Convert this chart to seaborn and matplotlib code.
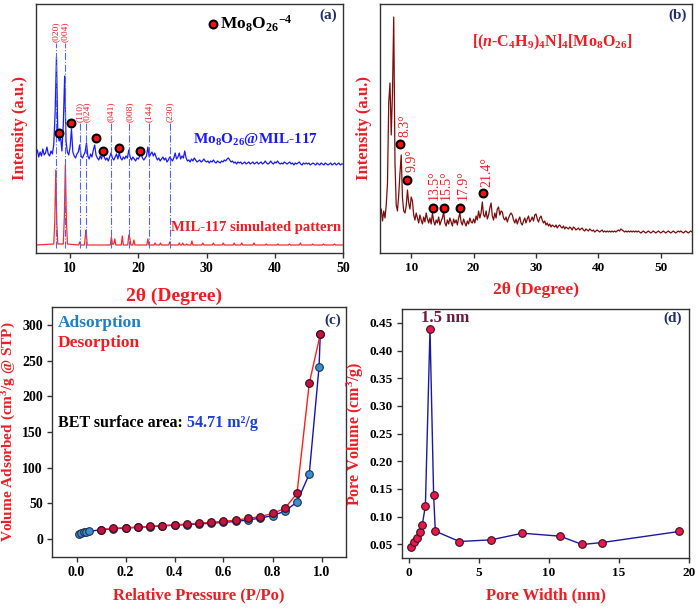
import numpy as np
import pandas as pd
import matplotlib
matplotlib.use("Agg")
import matplotlib.pyplot as plt
import seaborn as sns

# ---------------- data ----------------
# (a) Mo8O26@MIL-117 experimental trace, 5..50 deg step 0.2 (arbitrary intensity units)
a_blue = [
    99, 103, 96, 101, 97,   104, 98, 100, 106, 99,   97, 102, 99, 108, 140,
    196, 118, 112, 116, 102,   128, 177, 112, 101, 98,   106, 124, 101, 97, 95,
    99, 101, 108, 97, 95,   98, 101, 110, 97, 94,   99, 96, 103, 108, 98,
    95, 93, 97, 94, 101,   96, 93, 95, 92, 96,   100, 95, 93, 96, 99,
    94, 100, 95, 93, 96,   94, 97, 95, 103, 96,   93, 96, 94, 92, 95,
    94, 97, 100, 95, 93,   95, 97, 106, 96, 99,   101, 97, 100, 96, 93,
    95, 92, 94, 96, 93,   95, 91, 93, 96, 94,   92, 95, 100, 94, 96,
    100, 94, 97, 95, 102,   95, 92, 93, 91, 94,   92, 95, 93, 91, 92,
    93, 91, 92, 94, 92,   91, 92, 90, 92, 91,   93, 91, 90, 92, 91,
    90, 92, 91, 93, 92,   94, 95, 93, 91, 92,   90, 91, 89, 91, 90,
    91, 89, 90, 91, 89,   90, 91, 89, 90, 91,   89, 90, 91, 89, 90,
    91, 89, 90, 92, 90,   89, 90, 92, 90, 89,   91, 90, 92, 90, 89,
    90, 89, 91, 90, 89,   90, 91, 89, 90, 88,   90, 89, 90, 91, 89,
    88, 90, 89, 90, 89,   90, 88, 89, 90, 89,   88, 90, 89, 88, 90,
    89, 88, 90, 89, 88,   89, 90, 88, 89, 90,   88, 89, 90, 88, 89,
    89,
]
# (a) MIL-117 simulated pattern (peak-resolved sampling)
a_red_x = [5.0, 7.6, 7.75, 7.9, 8.05, 8.2,
           9.0, 9.15, 9.3, 9.45, 9.6,
           11.25, 11.4, 11.55, 12.1, 12.25, 12.35, 12.5,
           15.9, 16.05, 16.2, 16.4, 16.55, 16.7,
           17.5, 17.65, 17.8, 18.45, 18.6, 18.75, 18.9,
           19.2, 19.35, 19.5, 21.25, 21.4, 21.55,
           22.3, 22.45, 22.6, 23.1, 23.25, 23.4,
           24.45, 24.6, 24.75, 25.85, 26.0, 26.15, 26.35, 26.5, 26.65,
           26.95, 27.1, 27.25, 27.7, 27.85, 28.0,
           29.3, 29.45, 29.6, 30.85, 31.0, 31.15,
           32.3, 32.45, 32.6, 33.9, 34.05, 34.2,
           35.0, 35.15, 35.3, 36.8, 36.95, 37.1,
           38.6, 38.75, 38.9, 40.3, 40.45, 40.6,
           42.0, 42.15, 42.3, 43.6, 43.75, 43.9,
           45.4, 45.55, 45.7, 47.0, 47.15, 47.3,
           48.6, 48.75, 48.9, 50.0]
a_red_y = [8, 9, 30, 83, 30, 9,
           9, 35, 88, 35, 9,
           8, 11, 8, 8, 18, 23, 8,
           8, 16, 9, 9, 14, 8,
           8, 17, 8, 8, 18, 15, 8,
           8, 13, 8, 8, 14, 8,
           8, 10, 8, 8, 10, 8,
           8, 11, 8, 8, 10, 8, 8, 10, 8,
           8, 9, 8, 8, 12, 8,
           8, 10, 8, 8, 10, 8,
           8, 10, 8, 8, 10, 8,
           8, 10, 8, 8, 10, 8,
           8, 9, 8, 8, 9, 8,
           8, 9, 8, 8, 10, 8,
           8, 9, 8, 8, 9, 8,
           8, 9, 8, 8]
a_hkl_labels = ["(020)", "(004)", "(110)", "(024)", "(041)", "(008)", "(144)", "(230)"]
a_hkl_pos = [7.9, 9.25, 11.45, 12.4, 16.0, 18.7, 21.5, 24.65]
a_hkl_top = [210, 210, 130, 130, 130, 130, 130, 130]
a_mo_x = [8.42, 10.13, 13.75, 14.86, 17.2, 20.24]
a_mo_y = [120, 130, 115, 102, 105, 102]

# (b) [(n-C4H9)4N]4[Mo8O26] trace, 5..55 deg step 0.2
b_trace = [
    38, 44, 32, 42, 35,   48, 70, 150, 170, 118,   160, 236, 90, 48, 42,
    58, 80, 98, 55, 42,   40, 47, 63, 50, 44,   56, 52, 38, 33, 40,
    35, 30, 38, 33, 29,   36, 31, 40, 34, 30,   35, 29, 40, 32, 28,
    33, 30, 36, 28, 32,   35, 41, 30, 27, 33,   29, 35, 31, 27, 34,
    30, 33, 28, 35, 40,   31, 28, 34, 30, 27,   32, 29, 35, 31, 30,
    34, 30, 37, 33, 42,   35, 40, 51, 38, 36,   42, 34, 38, 45, 50,
    37, 33, 40, 35, 44,   46, 38, 42, 41, 35,   33, 36, 31, 35, 38,
    40, 38, 33, 30, 34,   29, 33, 36, 30, 28,   32, 35, 30, 34, 37,
    31, 33, 36, 32, 38,   39, 34, 31, 35, 37,   33, 30, 32, 28, 30,
    27, 29, 26, 28, 27,   26, 28, 25, 27, 28,   26, 25, 27, 24, 26,
    25, 24, 26, 25, 23,   26, 25, 23, 24, 25,   23, 24, 25, 23, 22,
    24, 23, 22, 24, 23,   22, 23, 21, 22, 23,   22, 21, 22, 23, 21,
    22, 21, 22, 21, 22,   21, 22, 21, 22, 21,   22, 23, 22, 24, 23,
    22, 21, 22, 21, 22,   21, 22, 21, 22, 21,   22, 21, 22, 21, 20,
    21, 22, 21, 20, 21,   22, 21, 20, 21, 22,   21, 20, 21, 22, 21,
    20, 21, 22, 21, 20,   21, 22, 21, 20, 21,   22, 21, 20, 21, 22,
    21, 22, 21, 20, 21,   22, 21, 20, 21, 22,
    21,
]
b_peak_labels = ["8.3°", "9.9°", "13.5°", "15.5°", "17.9°", "21.4°"]
b_mark_x = [8.2, 9.37, 13.5, 15.3, 17.9, 21.5]
b_mark_y = [109, 73, 45, 45, 45, 60]
b_label_x = [9.0, 10.17, 13.75, 15.6, 18.3, 22.07]
b_label_y = [116, 81, 53, 53, 53, 66]

# (c) N2 isotherm
c_ads_p = [0.01, 0.02, 0.03, 0.04, 0.05, 0.1, 0.15, 0.2, 0.25, 0.3, 0.35, 0.4, 0.45,
           0.5, 0.55, 0.6, 0.65, 0.7, 0.75, 0.8, 0.85, 0.9, 0.95, 0.99, 0.995]
c_ads_v = [7, 8.5, 9.5, 10.3, 11, 13, 14.5, 15.5, 16.5, 17.5, 18.5, 19.5, 20.3,
           21.3, 22.3, 23.5, 24.8, 26.8, 29.5, 33, 39, 52, 91, 241, 287]
c_des_p = [0.995, 0.95, 0.9, 0.85, 0.8, 0.75, 0.7, 0.65, 0.6, 0.55, 0.5, 0.45,
           0.4, 0.35, 0.3, 0.25, 0.2, 0.15, 0.1]
c_des_v = [287, 218, 64, 43, 36, 31.5, 29, 26.5, 25, 23.5, 22.4, 21,
           20, 19, 17.8, 16.8, 16, 15, 13.5]

# (d) pore size distribution
d_width = [0.14, 0.38, 0.57, 0.79, 0.95, 1.17, 1.5, 1.76, 1.88, 3.6, 5.86, 8.1,
           10.79, 12.38, 13.81, 19.29]
d_volume = [0.044, 0.0548, 0.062, 0.0717, 0.0855, 0.119, 0.4386, 0.138, 0.0735,
            0.0548, 0.0578, 0.0698, 0.0644, 0.0494, 0.053, 0.0729]

# ---------------- style ----------------
sns.set_theme(style="ticks")
plt.rcParams.update({
    "font.family": ["Liberation Serif", "DejaVu Serif"],
    "font.weight": "bold",
    "axes.labelweight": "bold",
    "mathtext.fontset": "custom",
    "mathtext.rm": "Liberation Serif:bold",
    "mathtext.it": "Liberation Serif:italic:bold",
    "mathtext.bf": "Liberation Serif:bold",
    "axes.edgecolor": "#333333",
    "axes.linewidth": 1.0,
    "xtick.color": "#333333",
    "ytick.color": "#333333",
    "xtick.labelcolor": "black",
    "ytick.labelcolor": "black",
})

RED = "#f01c24"
NAVY = "#1f2d6b"

W, H = 698, 608
fig = plt.figure(figsize=(W / 100, H / 100), dpi=100)


def ax_px(l, t, r, b):
    return fig.add_axes([l / W, (H - b) / H, (r - l) / W, (b - t) / H])


axa = ax_px(36, 4, 343, 253)
axb = ax_px(380, 4, 692, 253)
axc = ax_px(52, 307, 346, 557)
axd = ax_px(402, 309, 689, 558)

# ---------------- (a) ----------------
a_df = pd.DataFrame({"tt": np.round(np.linspace(5, 50, len(a_blue)), 2), "I": a_blue})
r_df = pd.DataFrame({"tt": a_red_x, "I": a_red_y})
sns.lineplot(data=r_df, x="tt", y="I", ax=axa, color="#ff2a2a", linewidth=0.9,
             sort=False, estimator=None)
sns.lineplot(data=a_df, x="tt", y="I", ax=axa, color="#1a1aff", linewidth=0.9,
             sort=False, estimator=None)
axa.vlines(a_hkl_pos, 5, a_hkl_top, colors="#5566ee", linestyles="dashdot", linewidth=0.8)
for lab, xp, top in zip(a_hkl_labels, a_hkl_pos, a_hkl_top):
    axa.text(xp, top + 1, lab, rotation=90, ha="center", va="bottom", color=RED,
             fontsize=6.8, fontweight="normal")
sns.scatterplot(x=a_mo_x, y=a_mo_y, ax=axa, s=32, color="#ff1010", edgecolor="black",
                linewidth=1.5, zorder=5)
sns.scatterplot(x=[30.9], y=[229], ax=axa, s=32, color="#ff1010", edgecolor="black",
                linewidth=1.5, zorder=5)
axa.text(32.0, 229, r"Mo$_8$O$_{26}{}^{-4}$", ha="left", va="center", fontsize=12.5,
         color="black")
axa.text(37.2, 113, r"Mo$_8$O$_{26}$@MIL-117", ha="center", va="center", fontsize=11,
         color="#1a1aff")
axa.text(37.3, 25, "MIL-117 simulated pattern", ha="center", va="center", fontsize=10.5,
         color=RED)
axa.text(0.951, 0.956, "(a)", transform=axa.transAxes, ha="center", va="center",
         fontsize=11, color=NAVY)
axa.set_xlim(5, 50)
axa.set_ylim(0, 249)
axa.set_xticks([10, 20, 30, 40, 50])
axa.set_yticks([])
axa.set_xlabel("2θ (Degree)", color=RED, fontsize=14, labelpad=6)
axa.xaxis.set_label_coords(0.45, -0.14)
axa.set_ylabel("Intensity (a.u.)", color=RED, fontsize=12, labelpad=6)

# ---------------- (b) ----------------
b_df = pd.DataFrame({"tt": np.round(np.linspace(5, 55, len(b_trace)), 2), "I": b_trace})
sns.lineplot(data=b_df, x="tt", y="I", ax=axb, color="#7a0c0c", linewidth=0.9,
             sort=False, estimator=None)
sns.scatterplot(x=b_mark_x, y=b_mark_y, ax=axb, s=32, color="#ff1010", edgecolor="black",
                linewidth=1.5, zorder=5)
for lab, xp, yp in zip(b_peak_labels, b_label_x, b_label_y):
    axb.text(xp, yp, lab, rotation=90, ha="center", va="bottom", color=RED,
             fontsize=10, fontweight="normal")
axb.text(0.551, 0.847, r"[($\mathit{n}$-C$_4$H$_9$)$_4$N]$_4$[Mo$_8$O$_{26}$]",
         transform=axb.transAxes, ha="center", va="center", fontsize=11.5, color=RED)
axb.text(0.955, 0.956, "(b)", transform=axb.transAxes, ha="center", va="center",
         fontsize=11, color=NAVY)
axb.set_xlim(5, 55)
axb.set_ylim(0, 249)
axb.set_xticks([10, 20, 30, 40, 50])
axb.set_yticks([])
axb.set_xlabel("2θ (Degree)", color=RED, fontsize=12.5, labelpad=6)
axb.set_ylabel("Intensity (a.u.)", color=RED, fontsize=12, labelpad=6)

# ---------------- (c) ----------------
sns.lineplot(x=c_ads_p, y=c_ads_v, ax=axc, color="#1414b4", linewidth=1.0, sort=False,
             estimator=None, marker="o", markersize=5.5, markerfacecolor="#3a8fd0",
             markeredgecolor="#1f3050", markeredgewidth=0.8)
sns.lineplot(x=c_des_p, y=c_des_v, ax=axc, color="#ff2020", linewidth=1.0, sort=False,
             estimator=None, marker="o", markersize=5.5, markerfacecolor="#c2143e",
             markeredgecolor="#3a0a1a", markeredgewidth=0.8)
axc.text(0.02, 0.936, "Adsorption", transform=axc.transAxes, ha="left", va="center",
         fontsize=12.5, color="#1f7fc4")
axc.text(0.02, 0.856, "Desorption", transform=axc.transAxes, ha="left", va="center",
         fontsize=12.5, color=RED)
t1 = axc.text(0.02, 0.536, "BET surface area: ", transform=axc.transAxes, ha="left",
              va="center", fontsize=11.5, color="black")
axc.annotate("54.71 m²/g", xy=(1, 0.5), xycoords=t1, ha="left", va="center",
             fontsize=11.5, color="#1a3fd1", fontweight="bold")
axc.text(0.956, 0.948, "(c)", transform=axc.transAxes, ha="center", va="center",
         fontsize=11, color=NAVY)
axc.set_xlim(-0.1, 1.1)
axc.set_ylim(-25, 325)
axc.set_xticks([0.0, 0.2, 0.4, 0.6, 0.8, 1.0])
axc.set_xticklabels(["0.0", "0.2", "0.4", "0.6", "0.8", "1.0"])
axc.set_yticks([0, 50, 100, 150, 200, 250, 300])
axc.set_xlabel("Relative Pressure (P/Po)", color=RED, fontsize=12, labelpad=6)
axc.set_ylabel("Volume Adsorbed (cm$^3$/g @ STP)", color=RED, fontsize=11, labelpad=3)

# ---------------- (d) ----------------
sns.lineplot(x=d_width, y=d_volume, ax=axd, color="#1a1aa0", linewidth=1.0, sort=False,
             estimator=None, marker="o", markersize=5.5, markerfacecolor="#e8184c",
             markeredgecolor="#3a1020", markeredgewidth=0.8)
axd.text(0.15, 0.964, "1.5 nm", transform=axd.transAxes, ha="center", va="center",
         fontsize=12, color="#6d1a3a")
axd.text(0.944, 0.964, "(d)", transform=axd.transAxes, ha="center", va="center",
         fontsize=11, color=NAVY)
axd.set_xlim(-0.5, 20)
axd.set_ylim(0.025, 0.475)
axd.set_xticks([0, 5, 10, 15, 20])
axd.set_yticks([0.05, 0.10, 0.15, 0.20, 0.25, 0.30, 0.35, 0.40, 0.45])
axd.set_yticklabels(["0.05", "0.10", "0.15", "0.20", "0.25", "0.30", "0.35", "0.40", "0.45"])
axd.set_xlabel("Pore Width (nm)", color=RED, fontsize=12, labelpad=6)
axd.set_ylabel("Pore Volume (cm$^3$/g)", color=RED, fontsize=11.5, labelpad=3)

for ax in (axa, axb, axc, axd):
    for s in ax.spines.values():
        s.set_visible(True)
        s.set_color("#333333")
        s.set_linewidth(1.0)
    ax.tick_params(direction="out", length=3.5, width=1.0, labelsize=10, pad=3,
                   top=False, right=False)
    for lab in ax.get_xticklabels() + ax.get_yticklabels():
        lab.set_fontweight("bold")
    if ax.get_legend() is not None:
        ax.get_legend().remove()

axb.tick_params(labelsize=9.5)
axd.tick_params(labelsize=9.5)

fig.savefig("out.png", dpi=100)
